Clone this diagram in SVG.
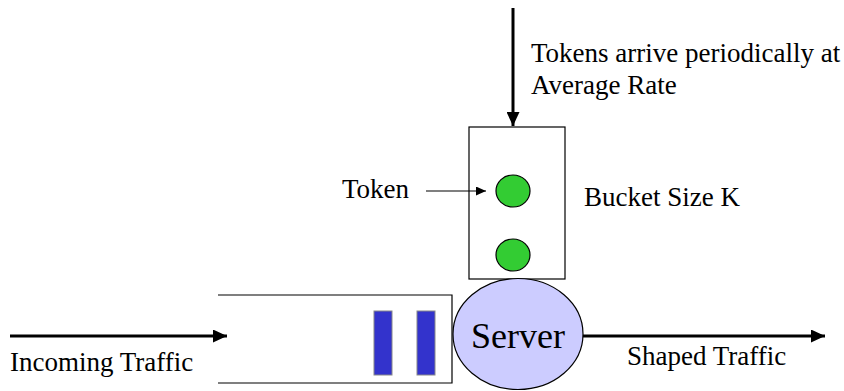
<svg xmlns="http://www.w3.org/2000/svg" width="844" height="391" viewBox="0 0 844 391">
  <style>
    .lbl { font-family: "Liberation Serif", "Times New Roman", serif; font-size: 27px; fill: #000; }
    .big { font-family: "Liberation Serif", "Times New Roman", serif; font-size: 36px; fill: #000; }
    .box { fill: #fff; stroke: #000; stroke-width: 1.2; }
    .token { fill: #33cc33; stroke: #000; stroke-width: 1.2; }
    .packet { fill: #3333cc; stroke: #888; stroke-width: 1; }
    .flow { stroke: #000; stroke-width: 3; fill: none; }
    .thin { stroke: #000; stroke-width: 1.2; fill: none; }
  </style>
  <defs>
    <marker id="head" viewBox="0 0 14 13" refX="14" refY="6.5" markerWidth="14" markerHeight="13" markerUnits="userSpaceOnUse" orient="auto">
      <path d="M0,0 L14,6.5 L0,13 z" fill="#000"/>
    </marker>
    <marker id="headSmall" viewBox="0 0 10 9" refX="10" refY="4.5" markerWidth="10" markerHeight="9" markerUnits="userSpaceOnUse" orient="auto">
      <path d="M0,0 L10,4.5 L0,9 z" fill="#000"/>
    </marker>
  </defs>

  <!-- queue buffer (open on the left) -->
  <g id="queue">
    <path class="thin" d="M218,295 H452 V383 H218"/>
    <rect class="packet" x="374" y="311" width="18" height="64"/>
    <rect class="packet" x="417" y="311" width="18" height="64"/>
  </g>

  <!-- token bucket -->
  <g id="bucket">
    <rect class="box" x="469" y="127" width="96" height="152"/>
    <ellipse class="token" cx="513" cy="191" rx="17" ry="16"/>
    <ellipse class="token" cx="513" cy="255" rx="17" ry="16"/>
  </g>

  <!-- server -->
  <g id="server">
    <ellipse cx="518" cy="334" rx="65" ry="55.5" fill="#ccccff" stroke="#000" stroke-width="1.2"/>
    <text class="big" x="518" y="348" text-anchor="middle">Server</text>
  </g>

  <!-- connectors -->
  <g id="connectors">
    <line class="flow" x1="513" y1="8" x2="513" y2="126" marker-end="url(#head)"/>
    <line class="thin" x1="426" y1="191" x2="486" y2="191" marker-end="url(#headSmall)"/>
    <line class="flow" x1="10" y1="336" x2="227" y2="336" marker-end="url(#head)"/>
    <line class="flow" x1="583" y1="336" x2="825" y2="336" marker-end="url(#head)"/>
  </g>

  <!-- labels -->
  <g id="labels">
    <text class="lbl" x="531" y="62">Tokens arrive periodically at</text>
    <text class="lbl" x="531" y="94">Average Rate</text>
    <text class="lbl" x="342" y="198">Token</text>
    <text class="lbl" x="584" y="206">Bucket Size K</text>
    <text class="lbl" x="10" y="371">Incoming Traffic</text>
    <text class="lbl" x="627" y="365">Shaped Traffic</text>
  </g>
</svg>
